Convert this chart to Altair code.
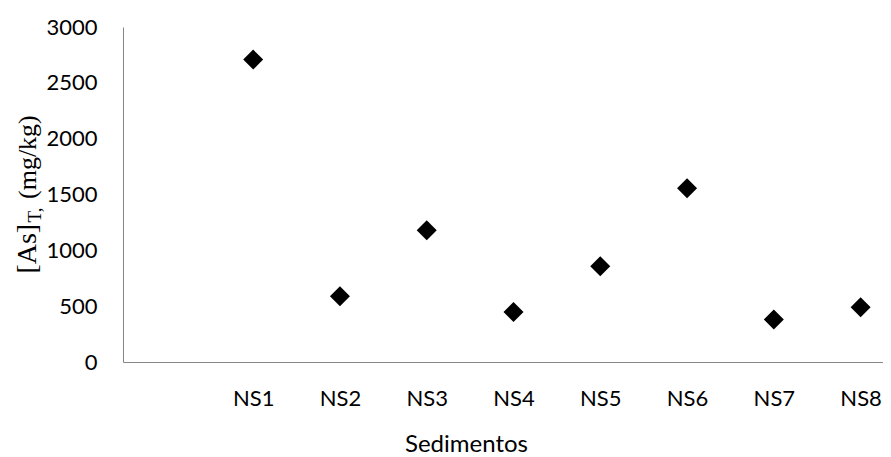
import altair as alt
import pandas as pd

# ---- data ----
categories = ["NS1", "NS2", "NS3", "NS4", "NS5", "NS6", "NS7", "NS8"]
values = [2708, 588, 1179, 448, 857, 1556, 380, 490]
x_domain = [""] + categories          # Excel leaves an empty slot before NS1
y_ticks = [0, 500, 1000, 1500, 2000, 2500, 3000]
x_title = "Sedimentos"
y_title_main = "[As]"
y_title_sub = "T,"
y_title_unit = "(mg/kg)"

df = pd.DataFrame({"Sedimento": categories, "As": values})

AXIS_GREY = "#868686"

points = alt.Chart(df).mark_point(
    shape="diamond", filled=True, color="black", size=400, opacity=1
).encode(
    x=alt.X(
        "Sedimento:N",
        sort=x_domain,
        scale=alt.Scale(type="point", domain=x_domain, range=[0, 781], padding=0.5),
        axis=alt.Axis(
            title=x_title,
            labelAngle=0,
            labelBaseline="alphabetic",
            labelPadding=43,
            titleX=343,
            titleY=89,
            titleAlign="center",
            titleBaseline="alphabetic",
            titleFontSize=24,
        ),
    ),
    y=alt.Y(
        "As:Q",
        scale=alt.Scale(domain=[0, 3000], nice=False),
        axis=alt.Axis(title=None, values=y_ticks, format="d", labelPadding=26),
    ),
)


def title_part(text, x, y, size):
    return alt.Chart(pd.DataFrame({"t": [text]})).mark_text(
        angle=270,
        align="left",
        baseline="alphabetic",
        font="Liberation Serif",
        fontSize=size,
        color="black",
    ).encode(text="t:N", x=alt.value(x), y=alt.value(y))


t_main = title_part(y_title_main, -87.5, 246.6, 28)
t_sub = title_part(y_title_sub, -82.5, 195.5, 19)
t_unit = title_part(y_title_unit, -87.5, 172, 26)

chart = (
    alt.layer(points, t_main, t_sub, t_unit)
    .properties(
        width=760,
        height=335,
        padding={"left": 115, "top": 19, "right": 0, "bottom": 95},
        autosize=alt.AutoSizeParams(type="none"),
        background="white",
    )
    .configure_view(stroke=None)
    .configure_axis(
        grid=False,
        ticks=False,
        domainColor=AXIS_GREY,
        domainWidth=1,
        labelFont="Lato",
        labelFontSize=22,
        labelColor="black",
        titleFont="Lato",
        titleFontWeight="normal",
        titleColor="black",
    )
)

chart.save("out.html", embed_options={"renderer": "svg", "actions": False})
